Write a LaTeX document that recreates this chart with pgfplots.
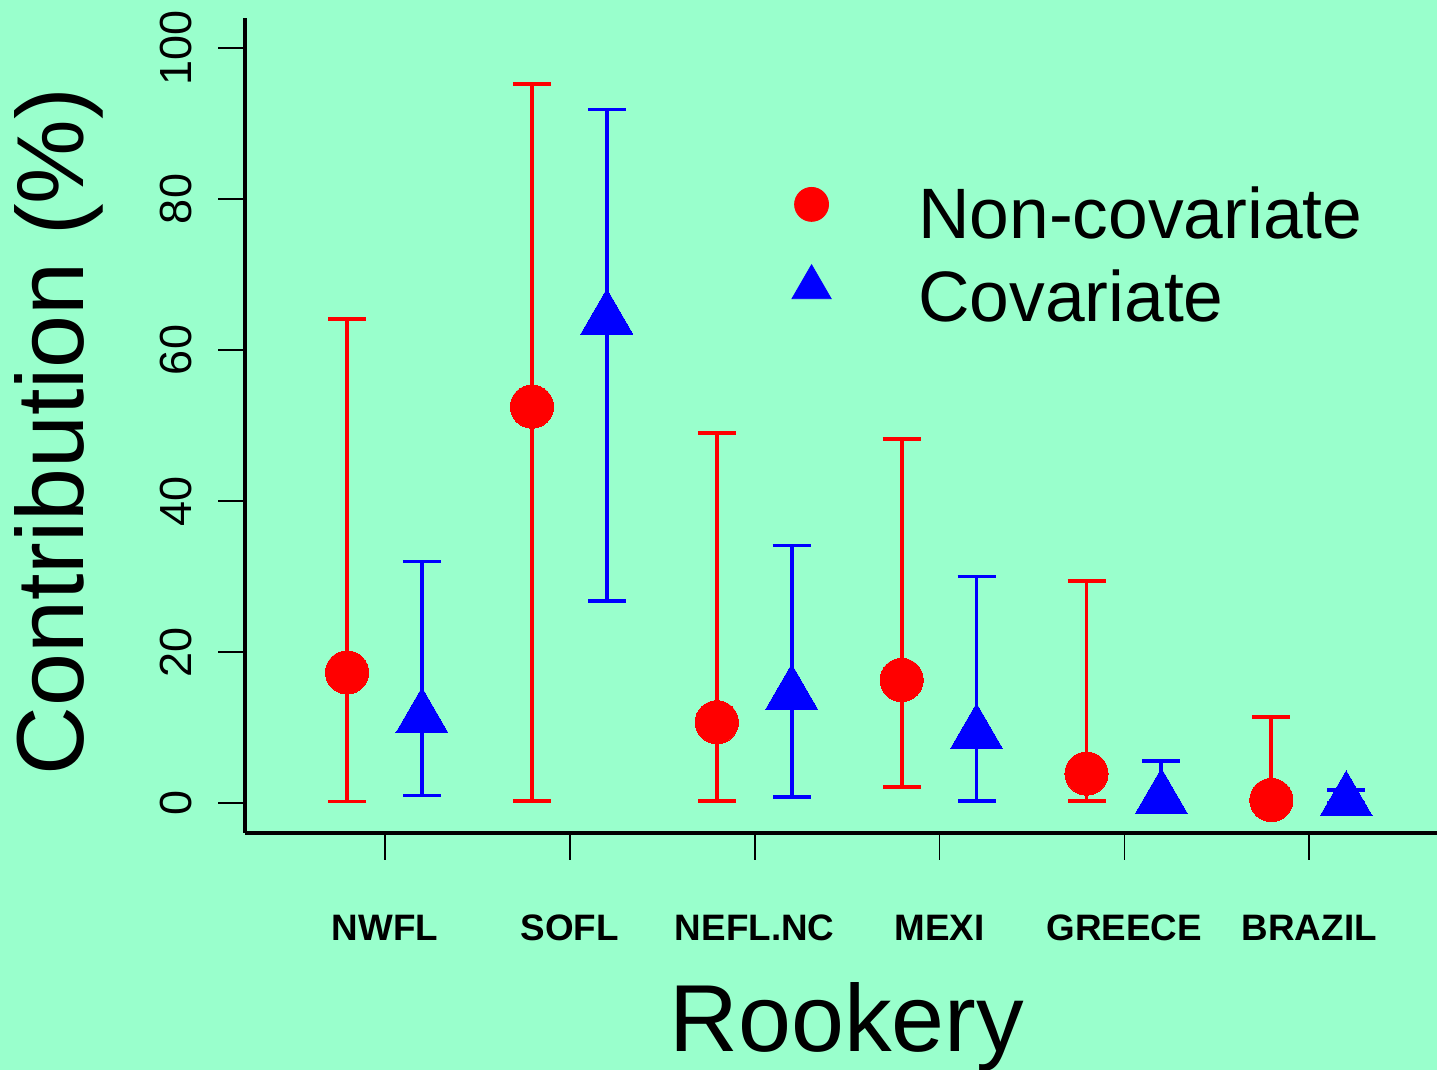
\documentclass[border=0pt]{standalone}
\usepackage{fontspec}
\setmainfont{Liberation Sans}
\usepackage{pgfplots}
\usepackage{pgfplotstable}
\pgfplotsset{compat=1.18}
\definecolor{bgmint}{RGB}{153,255,204}
\pgfplotstableread{
x y ep em
0.795 17.3 46.8 17.1
1.795 52.5 42.75 52.2
2.795 10.7 38.3 10.4
3.795 16.3 31.9 14.2
4.795 3.9 25.5 3.6
5.795 0.4 11.0 0.4
}\redtab
\pgfplotstableread{
x y ep em
1.2 11.3 20.7 10.3
2.2 64.1 27.75 37.3
3.2 14.4 19.7 13.6
4.2 9.2 20.8 8.9
5.2 0.6 5.0 0.6
6.2 0.3 1.4 0.3
}\bluetab
\begin{document}
\begin{tikzpicture}
\fill[bgmint] (0pt,0pt) rectangle (718.5pt,535pt);
\begin{axis}[
  at={(122.5pt,118.5pt)}, anchor=south west,
  scale only axis, width=596pt, height=407.5pt,
  xmin=0.2427, xmax=6.691, ymin=-3.97, ymax=103.97,
  axis lines*=left,
  axis line style={line width=1.65pt, black},
  clip=false,
  xtick={1,2,3,4,5,6},
  xticklabels={NWFL,SOFL,NEFL.NC,MEXI,GREECE,BRAZIL},
  ytick={0,20,40,60,80,100},
  tick align=outside,
  major tick length=13.3pt,
  tick style={line width=0.85pt, black},
  /pgf/number format/assume math mode=true,
  xticklabel style={font=\fontsize{18.4}{20}\selectfont\bfseries, anchor=base, inner sep=0pt, yshift=-40.7pt},
  yticklabel style={font=\fontsize{22.5}{24}\selectfont, xshift=-13.2pt, rotate=90, anchor=south, inner sep=0pt},
  every axis x label/.style={at={(axis description cs:0.5,0)}, yshift=-109.5pt, xshift=3pt, anchor=base, inner sep=0pt, font=\fontsize{47.6}{50}\selectfont},
  every axis y label/.style={at={(axis description cs:0,0.5)}, xshift=-80.5pt, yshift=-3pt, rotate=90, anchor=base, inner sep=0pt, font=\fontsize{47.6}{50}\selectfont},
  xlabel={Rookery},
  ylabel={Contribution (\%)},
  legend style={at={(axis description cs:0.4589,0.7926)}, anchor=north west, draw=none, fill=none, inner sep=0pt, outer sep=0pt, font=\fontsize{35.7}{40}\selectfont, row sep=11.5pt, nodes={inner sep=0pt}, /tikz/every odd column/.append style={column sep=43.5pt}},
  legend cell align=left,
  legend image post style={yshift=5pt},
]
\addplot[forget plot, only marks, mark=*, mark size=10.8pt, color=red, mark options={line width=0pt},
  error bars/.cd, y dir=both, y explicit,
  error bar style={line width=1.9pt, red},
  error mark options={rotate=90, line width=1.9pt, mark size=9.5pt, red}]
  table[x=x, y=y, y error plus=ep, y error minus=em] {\redtab};
\addplot[forget plot, only marks, mark=triangle*, mark size=15pt, color=blue, mark options={line width=0pt},
  error bars/.cd, y dir=both, y explicit,
  error bar style={line width=1.9pt, blue},
  error mark options={rotate=90, line width=1.9pt, mark size=9.5pt, blue}]
  table[x=x, y=y, y error plus=ep, y error minus=em] {\bluetab};
\addlegendimage{only marks, mark=*, mark size=8.5pt, red}
\addlegendentry{Non-covariate}
\addlegendimage{only marks, mark=triangle*, mark size=11.3pt, blue}
\addlegendentry{Covariate}
\end{axis}
\pgfresetboundingbox
\path[use as bounding box] (0pt,0pt) rectangle (718.5pt,535pt);
\end{tikzpicture}
\end{document}
